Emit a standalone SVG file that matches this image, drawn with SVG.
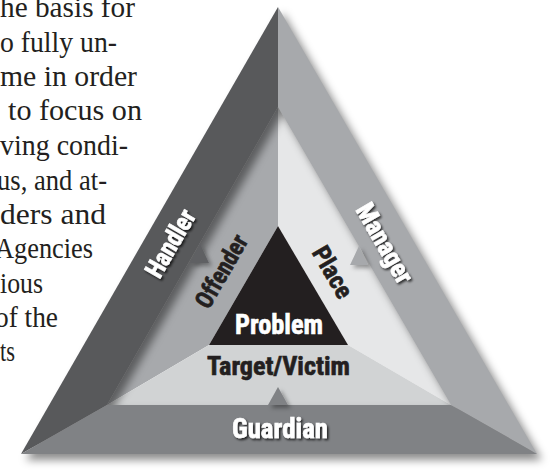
<svg xmlns="http://www.w3.org/2000/svg" width="558" height="472" viewBox="0 0 558 472">
  <style>
    .body { font-family: "Liberation Serif", "DejaVu Serif", serif; font-size: 30px; fill: #231f20; }
    .lbl { font-family: "Liberation Sans Narrow", "Roboto Condensed", "DejaVu Sans Condensed", "Liberation Sans", sans-serif; font-weight: bold; text-anchor: middle; stroke-width: 0.6px; }
    .white { fill: #ffffff; stroke: #ffffff; }
    .dark { fill: #231f20; stroke: #231f20; }
  </style>
  <defs>
    <filter id="blur" x="-10%" y="-10%" width="120%" height="120%">
      <feGaussianBlur stdDeviation="4"/>
    </filter>
    <filter id="ts" x="-20%" y="-20%" width="140%" height="140%">
      <feDropShadow dx="1.6" dy="1.8" stdDeviation="1" flood-color="#000" flood-opacity="0.75"/>
    </filter>
    <filter id="as" x="-50%" y="-50%" width="200%" height="200%">
      <feDropShadow dx="3" dy="3" stdDeviation="2" flood-color="#000" flood-opacity="0.35"/>
    </filter>
  </defs>

  <rect width="558" height="472" fill="#ffffff"/>

  <g id="body-text" class="body">
    <text x="0" y="17" textLength="135" lengthAdjust="spacingAndGlyphs">he basis for</text>
    <text x="0" y="51.5" textLength="117" lengthAdjust="spacingAndGlyphs">o fully un-</text>
    <text x="0" y="86" textLength="137" lengthAdjust="spacingAndGlyphs">me in order</text>
    <text x="8" y="120" textLength="134" lengthAdjust="spacingAndGlyphs">to focus on</text>
    <text x="0" y="155" textLength="128" lengthAdjust="spacingAndGlyphs">ving condi-</text>
    <text x="-3" y="189.5" textLength="110" lengthAdjust="spacingAndGlyphs">us, and at-</text>
    <text x="0" y="224" textLength="106" lengthAdjust="spacingAndGlyphs">ders and</text>
    <text x="-5" y="258" textLength="98" lengthAdjust="spacingAndGlyphs">Agencies</text>
    <text x="0" y="292.5" textLength="43" lengthAdjust="spacingAndGlyphs">ious</text>
    <text x="-5" y="327" textLength="63" lengthAdjust="spacingAndGlyphs">of the</text>
    <text x="0" y="361" textLength="15" lengthAdjust="spacingAndGlyphs">ts</text>
  </g>

  <!-- middle layer -->
  <g id="offender">
    <polygon points="278,107 107,405 209,345 278,226" fill="#a7a9ac"/>
    <text class="lbl dark" font-size="25" transform="translate(221,271) rotate(-60)" y="9" textLength="80" lengthAdjust="spacingAndGlyphs">Offender</text>
  </g>
  <g id="place">
    <polygon points="278,107 451,405 348,345 278,226" fill="#e6e7e8"/>
    <text class="lbl dark" font-size="25" transform="translate(333,272) rotate(60)" y="9" textLength="56" lengthAdjust="spacingAndGlyphs">Place</text>
  </g>
  <g id="target-victim">
    <polygon points="107,405 451,405 348,345 209,345" fill="#d1d3d4"/>
    <text class="lbl dark" font-size="26" x="278.5" y="375" textLength="143" lengthAdjust="spacingAndGlyphs">Target/Victim</text>
  </g>
  <g id="problem">
    <polygon points="278,226 209,345 348,345" fill="#231f20"/>
    <text class="lbl white" font-size="27" x="279" y="334" textLength="88" lengthAdjust="spacingAndGlyphs">Problem</text>
  </g>

  <!-- shadow of outer band -->
  <path d="M278,7 L537,454 L21,454 Z M278,107 L107,405 L451,405 Z" fill-rule="evenodd" fill="#000" fill-opacity="0.45" transform="translate(5,6)" filter="url(#blur)"/>

  <!-- outer layer -->
  <g id="handler">
    <polygon points="278,7 21,454 107,405 278,107" fill="#58595b"/>
    <g filter="url(#ts)">
      <text class="lbl white" font-size="26" transform="translate(170,243) rotate(-60)" y="9.3" textLength="74" lengthAdjust="spacingAndGlyphs">Handler</text>
    </g>
  </g>
  <g id="manager">
    <polygon points="278,7 537,454 451,405 278,107" fill="#a7a9ac"/>
    <g filter="url(#ts)">
      <text class="lbl white" font-size="26" transform="translate(385,243) rotate(60)" y="9.3" textLength="88" lengthAdjust="spacingAndGlyphs">Manager</text>
    </g>
  </g>
  <g id="guardian">
    <polygon points="21,454 537,454 451,405 107,405" fill="#808285"/>
    <g filter="url(#ts)">
      <text class="lbl white" font-size="28" x="280" y="438" textLength="96" lengthAdjust="spacingAndGlyphs">Guardian</text>
    </g>
  </g>

  <!-- connectors: arrowheads from outer layer into middle layer -->
  <g id="connectors" filter="url(#as)">
    <polygon points="200,244 190,263 209,263" fill="#5f6063"/>
    <polygon points="359,246 350,265 368,265" fill="#a7a9ac"/>
    <polygon points="278,387 268,405 288,405" fill="#808285"/>
  </g>
</svg>
